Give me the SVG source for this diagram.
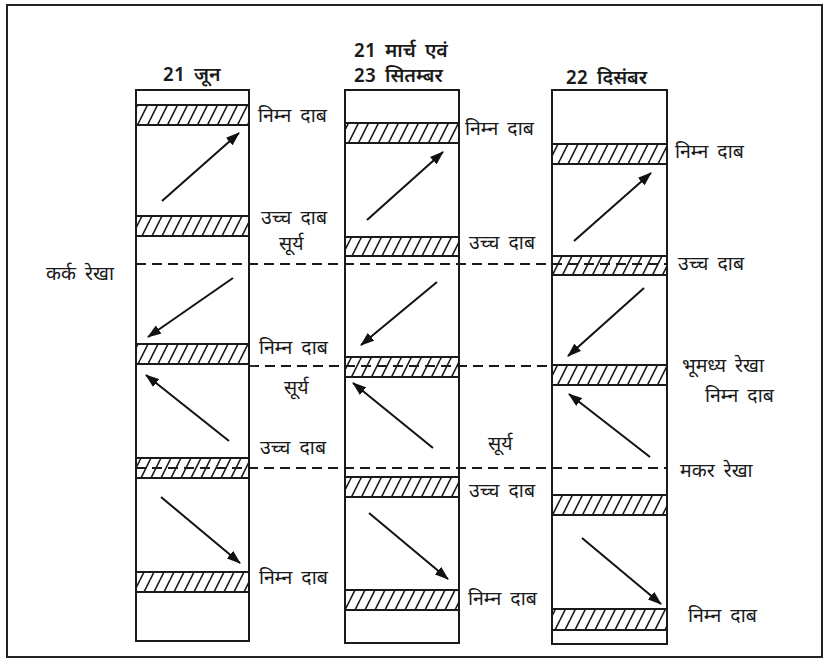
<svg xmlns="http://www.w3.org/2000/svg" width="828" height="664" viewBox="0 0 828 664">
<defs>
<style>
.frame{fill:#fff;stroke:#222;stroke-width:2}
.col{fill:#fff;stroke:#1a1a1a;stroke-width:2}
.band{fill:url(#hatch);stroke:#1a1a1a;stroke-width:2}
.dash{stroke:#1a1a1a;stroke-width:1.8;stroke-dasharray:10 6;fill:none}
.arr{stroke:#111;stroke-width:2;fill:none;marker-end:url(#ah)}
text{font-family:"Noto Sans Devanagari","Noto Sans","Lohit Devanagari","FreeSans",sans-serif;font-size:19.5px;word-spacing:4px;fill:#1a1a1a}
.hd{font-weight:600}
</style>
<pattern id="hatch" patternUnits="userSpaceOnUse" width="10" height="20">
<rect width="10" height="20" fill="#fff"/>
<path d="M-10,20 L0,0 M0,20 L10,0 M10,20 L20,0" stroke="#1a1a1a" stroke-width="1.6"/>
</pattern>
<marker id="ah" markerWidth="14" markerHeight="10" refX="13" refY="5" orient="auto" markerUnits="userSpaceOnUse">
<path d="M0,0 L14,5 L0,10 Z" fill="#111"/>
</marker>
</defs>
<rect class="frame" x="7" y="5" width="815" height="652"/>

<g id="header">
<text class="hd" x="163" y="81">21 जून</text>
<text class="hd" x="354" y="57">21 मार्च एवं</text>
<text class="hd" x="354" y="82">23 सितम्बर</text>
<text class="hd" x="566" y="84">22 दिसंबर</text>
</g>

<g id="col-june">
<rect class="col" x="136" y="90" width="113" height="551"/>
<rect class="band" x="136" y="105" width="113" height="20"/>
<rect class="band" x="136" y="216" width="113" height="20"/>
<rect class="band" x="136" y="344" width="113" height="20"/>
<rect class="band" x="136" y="458" width="113" height="20"/>
<rect class="band" x="136" y="572" width="113" height="20"/>
</g>
<g id="col-equinox">
<rect class="col" x="345" y="90" width="114" height="553"/>
<rect class="band" x="345" y="123" width="114" height="20"/>
<rect class="band" x="345" y="237" width="114" height="19"/>
<rect class="band" x="345" y="357" width="114" height="20"/>
<rect class="band" x="345" y="477" width="114" height="20"/>
<rect class="band" x="345" y="590" width="114" height="20"/>
</g>
<g id="col-december">
<rect class="col" x="552" y="90" width="115" height="554"/>
<rect class="band" x="552" y="144" width="115" height="20"/>
<rect class="band" x="552" y="256" width="115" height="19"/>
<rect class="band" x="552" y="365" width="115" height="20"/>
<rect class="band" x="552" y="495" width="115" height="20"/>
<rect class="band" x="552" y="609" width="115" height="21"/>
</g>

<g id="lines">
<line class="dash" x1="136" y1="264" x2="667" y2="264"/>
<line class="dash" x1="249" y1="366" x2="553" y2="366"/>
<line class="dash" x1="136" y1="468" x2="667" y2="468"/>
</g>

<g id="connectors">
<line class="arr" x1="162" y1="201" x2="239" y2="133"/>
<line class="arr" x1="233" y1="278" x2="148" y2="337"/>
<line class="arr" x1="229" y1="441" x2="146" y2="375"/>
<line class="arr" x1="161" y1="497" x2="240" y2="563"/>
<line class="arr" x1="367" y1="220" x2="443" y2="152"/>
<line class="arr" x1="437" y1="282" x2="361" y2="345"/>
<line class="arr" x1="433" y1="448" x2="353" y2="383"/>
<line class="arr" x1="369" y1="513" x2="448" y2="579"/>
<line class="arr" x1="574" y1="241" x2="651" y2="173"/>
<line class="arr" x1="644" y1="288" x2="568" y2="356"/>
<line class="arr" x1="650" y1="457" x2="569" y2="394"/>
<line class="arr" x1="582" y1="538" x2="661" y2="604"/>
</g>

<g id="labels">
<text x="46" y="280">कर्क रेखा</text>
<text x="258" y="122">निम्न दाब</text>
<text x="261" y="224">उच्च दाब</text>
<text x="279" y="250">सूर्य</text>
<text x="259" y="354">निम्न दाब</text>
<text x="284" y="394">सूर्य</text>
<text x="260" y="454">उच्च दाब</text>
<text x="259" y="584">निम्न दाब</text>

<text x="465" y="135">निम्न दाब</text>
<text x="469" y="249">उच्च दाब</text>
<text x="488" y="450">सूर्य</text>
<text x="469" y="497">उच्च दाब</text>
<text x="468" y="605">निम्न दाब</text>

<text x="675" y="158">निम्न दाब</text>
<text x="678" y="270">उच्च दाब</text>
<text x="682" y="372">भूमध्य रेखा</text>
<text x="705" y="402">निम्न दाब</text>
<text x="680" y="477">मकर रेखा</text>
<text x="688" y="622">निम्न दाब</text>
</g>
</svg>
